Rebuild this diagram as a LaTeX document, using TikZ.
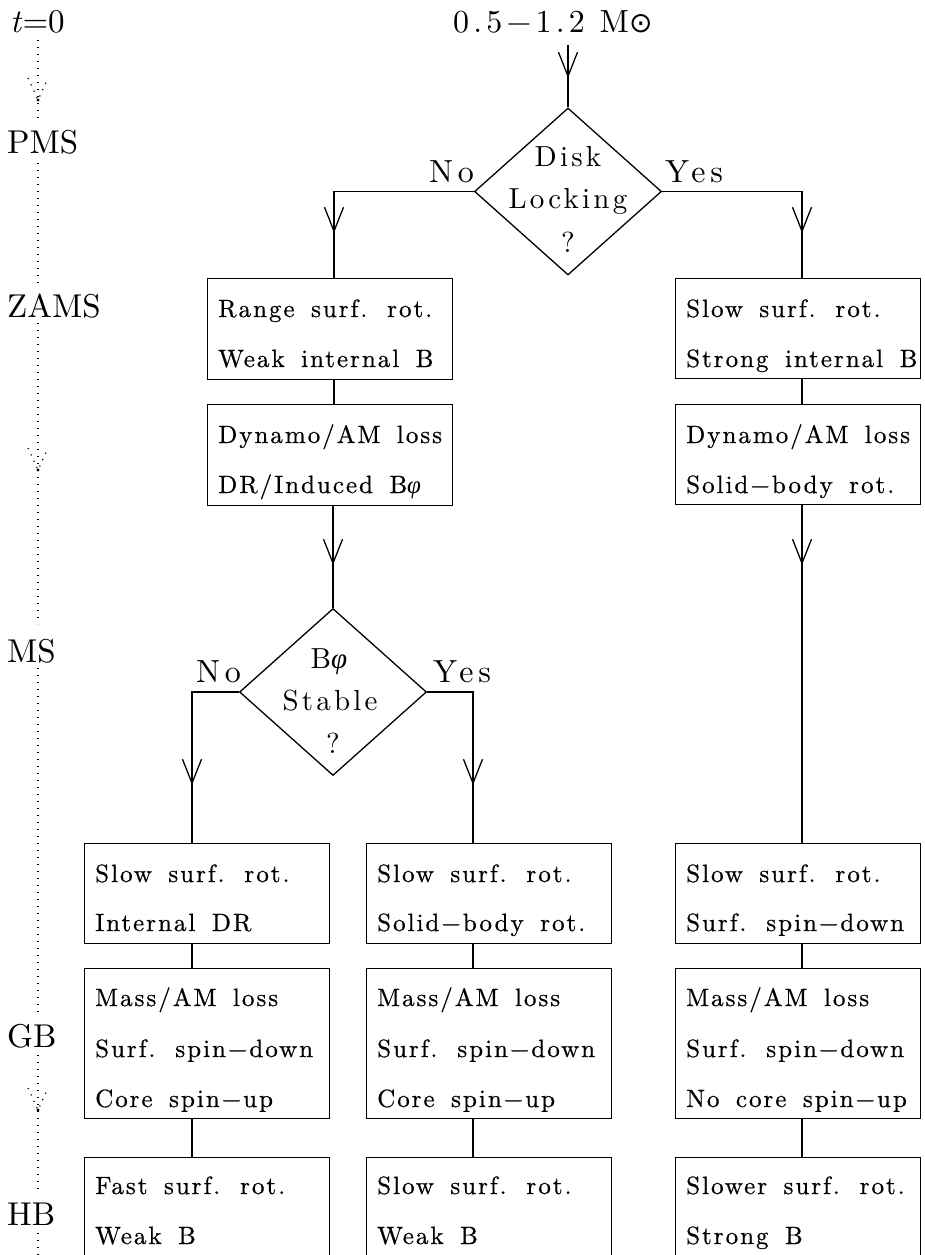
\documentclass[tikz,border=0pt]{standalone}
\usepackage{fontspec}
\setmainfont{lmroman10-regular}[Extension=.otf, ItalicFont=lmroman10-italic, BoldFont=lmroman10-bold]
\newfontfamily\boxfont{lmroman10-regular}[Extension=.otf, LetterSpace=8, WordSpace=1.6, FakeBold=0.6]
\newfontfamily\grk{Liberation Serif}
\newfontfamily\symf{DejaVu Sans}
\usetikzlibrary{shapes.geometric,arrows.meta}
\tikzset{
  bx/.style={draw, rectangle, anchor=north west, minimum width=245pt, inner sep=0pt, line width=1.3pt},
  dm/.style={draw, diamond, minimum width=187pt, minimum height=167pt, inner sep=0pt, line width=1.3pt},
  tx/.style={anchor=base west, inner sep=0pt, font=\boxfont\fontsize{25}{25}\selectfont},
  dtx/.style={anchor=base, inner sep=0pt, font=\fontsize{29}{29}\selectfont\addfontfeatures{LetterSpace=11}},
  yn/.style={inner sep=0pt, font=\fontsize{32}{32}\selectfont\addfontfeatures{LetterSpace=15}},
  ttl/.style={inner sep=0pt, anchor=base west, font=\fontsize{32}{32}\selectfont\addfontfeatures{LetterSpace=13}},
  stage/.style={anchor=base west, inner sep=0pt, font=\fontsize{33}{33}\selectfont},
  conn/.style={line width=1.3pt},
  vee/.style={conn, -{Straight Barb[length=24pt,width=19pt]}},
  tline/.style={line width=1.2pt, dash pattern=on 1.2pt off 5.8pt},
}
\newcommand\phiv{{\grk\itshape φ}}
\newcommand\bxt[4]{\node[tx] (#1-#2) at ([xshift=11pt,yshift=-#3pt]#1.north west) {#4};}
\begin{document}
\begin{tikzpicture}[x=1pt,y=-1pt]
\clip (0,0) rectangle (924,1255);
\fill[white] (0,0) rectangle (924,1255);

% ---- stage labels and time line
\node[stage] (t0) at (10,33) {\textit{t}=0};
\node[stage] (pms) at (7,153) {PMS};
\node[stage] (zams) at (7,317) {ZAMS};
\node[stage] (ms) at (7,662) {MS};
\node[stage] (gb) at (7,1047) {GB};
\node[stage] (hb) at (7,1225) {HB};
\draw[tline] (38,40) -- (38,121);
\draw[tline] (38,163) -- (38,283);
\draw[tline] (38,323) -- (38,624);
\draw[tline] (38,668) -- (38,1014);
\draw[tline] (38,1055) -- (38,1193);
\draw[tline] (38,1233) -- (38,1260);
\foreach \yy in {100,470,1110}{
  \draw[tline] (28,\yy-22) -- (38,\yy) -- (48,\yy-22);
  \fill (38,\yy) circle (1.6);
}

% ---- title
\node[ttl] (mass) at (453,33) {0.5−1.2 M{\symf\fontsize{28}{28}\selectfont ⊙}};

% ---- decisions
\node[dm] (d1) at (568,191.5) {};
\node[dtx] (d1a) at (568,166) {Disk};
\node[dtx] (d1b) at (568,208) {Locking};
\node[dtx] (d1c) at (568,252) {?};
\node[yn, anchor=base east] (no1) at (474,182) {No};
\node[yn, anchor=base west] (yes1) at (665,182) {Yes};

\node[dm] (d2) at (333,692) {};
\node[dtx] (d2a) at (329,668) {B\phiv};
\node[dtx] (d2b) at (330,710) {Stable};
\node[dtx] (d2c) at (333,753) {?};
\node[yn, anchor=base east] (no2) at (241,682) {No};
\node[yn, anchor=base west] (yes2) at (433,682) {Yes};

% ---- boxes
\node[bx, minimum height=101pt] (a1) at (207,278) {};
\bxt{a1}{1}{39}{Range surf. rot.}
\bxt{a1}{2}{89}{Weak internal B}
\node[bx, minimum height=101pt] (a2) at (207,404) {};
\bxt{a2}{1}{39}{Dynamo/AM loss}
\bxt{a2}{2}{89}{DR/Induced B\phiv}

\node[bx, minimum height=100pt] (b1) at (675,278) {};
\bxt{b1}{1}{39}{Slow surf. rot.}
\bxt{b1}{2}{89}{Strong internal B}
\node[bx, minimum height=100pt] (b2) at (675,404) {};
\bxt{b2}{1}{39}{Dynamo/AM loss}
\bxt{b2}{2}{89}{Solid−body rot.}

\node[bx, minimum height=100pt] (A1) at (84,843) {};
\bxt{A1}{1}{39}{Slow surf. rot.}
\bxt{A1}{2}{88}{Internal DR}
\node[bx, minimum height=150pt] (A2) at (84,968) {};
\bxt{A2}{1}{38}{Mass/AM loss}
\bxt{A2}{2}{89}{Surf. spin−down}
\bxt{A2}{3}{139}{Core spin−up}
\node[bx, minimum height=110pt] (A3) at (84,1157) {};
\bxt{A3}{1}{37}{Fast surf. rot.}
\bxt{A3}{2}{87}{Weak B}

\node[bx, minimum height=100pt] (B1) at (366,843) {};
\bxt{B1}{1}{39}{Slow surf. rot.}
\bxt{B1}{2}{88}{Solid−body rot.}
\node[bx, minimum height=150pt] (B2) at (366,968) {};
\bxt{B2}{1}{38}{Mass/AM loss}
\bxt{B2}{2}{89}{Surf. spin−down}
\bxt{B2}{3}{139}{Core spin−up}
\node[bx, minimum height=110pt] (B3) at (366,1157) {};
\bxt{B3}{1}{37}{Slow surf. rot.}
\bxt{B3}{2}{87}{Weak B}

\node[bx, minimum height=100pt] (C1) at (675,843) {};
\bxt{C1}{1}{39}{Slow surf. rot.}
\bxt{C1}{2}{88}{Surf. spin−down}
\node[bx, minimum height=150pt] (C2) at (675,968) {};
\bxt{C2}{1}{38}{Mass/AM loss}
\bxt{C2}{2}{89}{Surf. spin−down}
\bxt{C2}{3}{139}{No core spin−up}
\node[bx, minimum height=110pt] (C3) at (675,1157) {};
\bxt{C3}{1}{37}{Slower surf. rot.}
\bxt{C3}{2}{87}{Strong B}

% ---- column guides
\coordinate (cL) at (334,0);
\coordinate (cR) at (802,0);
\coordinate (cA) at (192,0);
\coordinate (cB) at (473,0);
\coordinate (top) at (568,45);
\coordinate (v0) at (568,78);
\coordinate (vL) at (334,233);
\coordinate (vR) at (802,233);
\coordinate (vD) at (333,565);
\coordinate (vR2) at (802,565);
\coordinate (vA) at (192,785);
\coordinate (vB) at (473,785);

% ---- connectors
\draw[conn] (top) -- (d1.north);
\draw[vee] (top) -- (v0);

\draw[conn] (d1.west) -| (a1.north -| cL);
\draw[vee] (d1.west -| cL) -- (vL);
\draw[conn] (d1.east) -| (b1.north -| cR);
\draw[vee] (d1.east -| cR) -- (vR);

\draw[conn] (a1.south -| cL) -- (a2.north -| cL);
\draw[conn] (b1.south -| cR) -- (b2.north -| cR);

\draw[conn] (a2.south -| d2) -- (d2.north);
\draw[vee] (a2.south -| d2) -- (vD);
\draw[conn] (b2.south -| cR) -- (C1.north -| cR);
\draw[vee] (b2.south -| cR) -- (vR2);

\draw[conn] (d2.west) -| (A1.north -| cA);
\draw[vee] (d2.west -| cA) -- (vA);
\draw[conn] (d2.east) -| (B1.north -| cB);
\draw[vee] (d2.east -| cB) -- (vB);

\draw[conn] (A1.south -| cA) -- (A2.north -| cA);
\draw[conn] (A2.south -| cA) -- (A3.north -| cA);
\draw[conn] (B1.south -| cB) -- (B2.north -| cB);
\draw[conn] (B2.south -| cB) -- (B3.north -| cB);
\draw[conn] (C1.south -| cR) -- (C2.north -| cR);
\draw[conn] (C2.south -| cR) -- (C3.north -| cR);
\end{tikzpicture}
\end{document}
